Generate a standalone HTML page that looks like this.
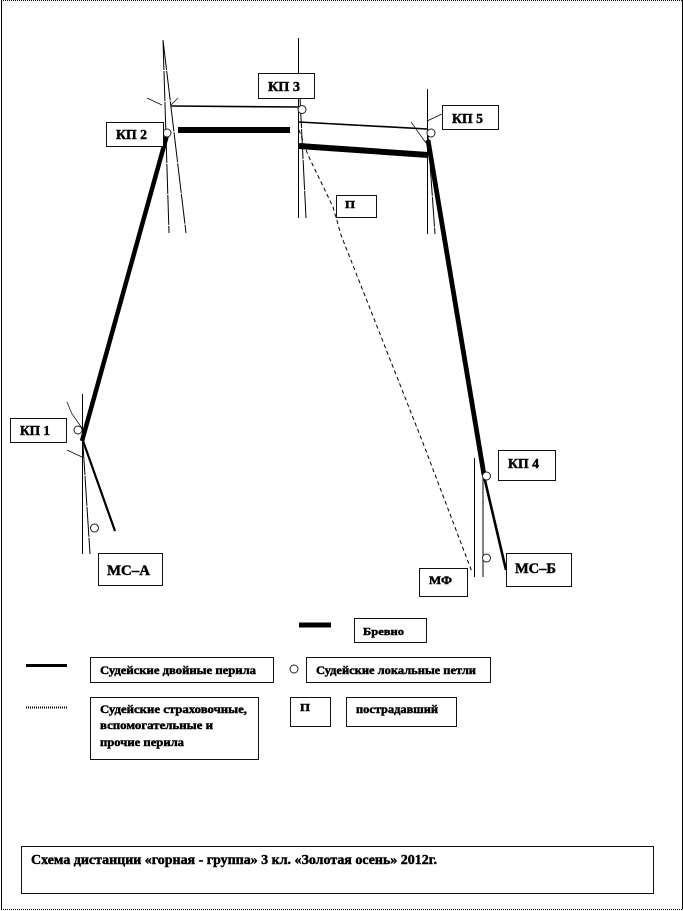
<!DOCTYPE html>
<html><head><meta charset="utf-8"><style>
html,body{margin:0;padding:0;background:#fff}
svg{display:block}
text{font-family:"Liberation Serif","Noto Serif CJK SC",serif;font-weight:bold;fill:#000;stroke:#000;stroke-width:.45px}
.b{fill:#fff;stroke:#111;stroke-width:1}
.c{fill:#fff;stroke:#222;stroke-width:1}
.l{fill:none;stroke:#000;stroke-width:1}
.d{fill:none;stroke:#000;stroke-width:1;stroke-dasharray:30 1}
</style></head><body>
<svg width="683" height="911" viewBox="0 0 683 911" xmlns="http://www.w3.org/2000/svg">
<rect width="683" height="911" fill="#fff"/>
<path d="M1.5 0V909.5M682.5 0V909.5" class="l"/>
<path d="M1 .5H682M1 909.5H682" fill="none" stroke="#000" stroke-dasharray="1 1"/>

<!-- thin lines -->
<path class="d" d="M163 40L169 233M163 40L186 233"/>
<path class="l" style="stroke-width:.7" d="M147 98L162 105M171 105L178 98M411 122L426 143M427 121L442 114M67 402L72 414L82 428M67 450L82 457"/>
<path class="l" style="stroke-width:1.6" d="M171 106L300 107M299 122L427 129"/>
<path class="l" d="M298.500 38V218M427.500 89V234M82.500 394V554M474.500 458V577M483 473V577"/>
<path class="d" d="M300 98L306 218M428 135L435 234M83 445L90 554"/>
<path fill="none" stroke="#000" stroke-width="1" stroke-dasharray="4 3" d="M299 130L308 155L333 207L341 235L423 443L472 572"/>

<!-- thick lines -->
<path d="M178 130H290" stroke="#000" stroke-width="6" fill="none"/>
<path d="M299 146L428 155" stroke="#000" stroke-width="6" fill="none"/>
<path d="M167 135L82 441" stroke="#000" stroke-width="4.500" fill="none"/>
<path d="M82 438L115 531" stroke="#000" stroke-width="2.200" fill="none"/>
<path d="M428 140L484 475" stroke="#000" stroke-width="4.800" fill="none"/>
<path d="M483 472L506 570" stroke="#000" stroke-width="2.600" fill="none"/>

<!-- circles -->
<circle class="c" cx="167" cy="133" r="4"/>
<circle class="c" cx="302" cy="109.500" r="4"/>
<circle class="c" cx="431" cy="133" r="4"/>
<circle class="c" cx="78" cy="430" r="4"/>
<circle class="c" cx="94.500" cy="528" r="4"/>
<circle class="c" cx="486.500" cy="476" r="4"/>
<circle class="c" cx="486.500" cy="558" r="4"/>
<circle class="c" cx="294" cy="669" r="4"/>

<!-- node boxes -->
<rect class="b" x="106.500" y="122.500" width="57" height="24"/>
<text x="116" y="139" font-size="14" textLength="31" lengthAdjust="spacingAndGlyphs">КП 2</text>
<rect class="b" x="258.500" y="73.500" width="56" height="25"/>
<text x="268" y="91" font-size="14" textLength="32" lengthAdjust="spacingAndGlyphs">КП 3</text>
<rect class="b" x="442.500" y="105.500" width="56" height="24"/>
<text x="452" y="123" font-size="14" textLength="31" lengthAdjust="spacingAndGlyphs">КП 5</text>
<rect class="b" x="10.500" y="418.500" width="56" height="24"/>
<text x="20" y="435" font-size="14" textLength="30" lengthAdjust="spacingAndGlyphs">КП 1</text>
<rect class="b" x="498.500" y="450.500" width="57" height="30"/>
<text x="508" y="468" font-size="14" textLength="31" lengthAdjust="spacingAndGlyphs">КП 4</text>
<rect class="b" x="98.500" y="553.500" width="64" height="32"/>
<text x="107" y="575" font-size="15" textLength="43" lengthAdjust="spacingAndGlyphs">МС–А</text>
<rect class="b" x="506.500" y="553.500" width="65" height="33"/>
<text x="515" y="573" font-size="15" textLength="41" lengthAdjust="spacingAndGlyphs">МС–Б</text>
<rect class="b" x="419.500" y="568.500" width="48" height="28"/>
<text x="429" y="584" font-size="12" textLength="23" lengthAdjust="spacingAndGlyphs">МФ</text>
<rect class="b" x="336.500" y="195.500" width="40" height="22"/>
<text x="345" y="208" font-size="11" textLength="10" lengthAdjust="spacingAndGlyphs">П</text>

<!-- legend -->
<path d="M299 625H331" stroke="#000" stroke-width="5" fill="none"/>
<rect class="b" x="354.500" y="618.500" width="72" height="24"/>
<text x="363" y="635" font-size="11" textLength="41" lengthAdjust="spacingAndGlyphs">Бревно</text>
<path d="M26 665.500H67" stroke="#000" stroke-width="3" fill="none"/>
<rect class="b" x="90.500" y="657.500" width="183" height="25"/>
<text x="100" y="674" font-size="11.500" textLength="156" lengthAdjust="spacingAndGlyphs">Судейские  двойные  перила</text>
<rect class="b" x="306.500" y="657.500" width="184" height="25"/>
<text x="316" y="674" font-size="11.500" textLength="160" lengthAdjust="spacingAndGlyphs">Судейские  локальные  петли</text>
<path d="M26 707.500H67" stroke="#000" stroke-width="2" stroke-dasharray="1 1" fill="none"/>
<rect class="b" x="90.500" y="697.500" width="168" height="62"/>
<text x="100" y="713" font-size="11.500" textLength="147" lengthAdjust="spacingAndGlyphs">Судейские  страховочные,</text>
<text x="100" y="729" font-size="11.500" textLength="113" lengthAdjust="spacingAndGlyphs">вспомогательные  и</text>
<text x="100" y="746" font-size="11.500" textLength="84" lengthAdjust="spacingAndGlyphs">прочие  перила</text>
<rect class="b" x="290.500" y="697.500" width="40" height="29"/>
<text x="300" y="711" font-size="11" textLength="10" lengthAdjust="spacingAndGlyphs">П</text>
<rect class="b" x="346.500" y="697.500" width="110" height="29"/>
<text x="356" y="713" font-size="11.500" textLength="82" lengthAdjust="spacingAndGlyphs">пострадавший</text>

<!-- title -->
<rect class="b" x="21.500" y="846.500" width="632" height="47"/>
<text x="31" y="864" font-size="13.500" textLength="406" lengthAdjust="spacingAndGlyphs">Схема дистанции «горная - группа»  3 кл.  «Золотая осень» 2012г.</text>
</svg>
</body></html>
